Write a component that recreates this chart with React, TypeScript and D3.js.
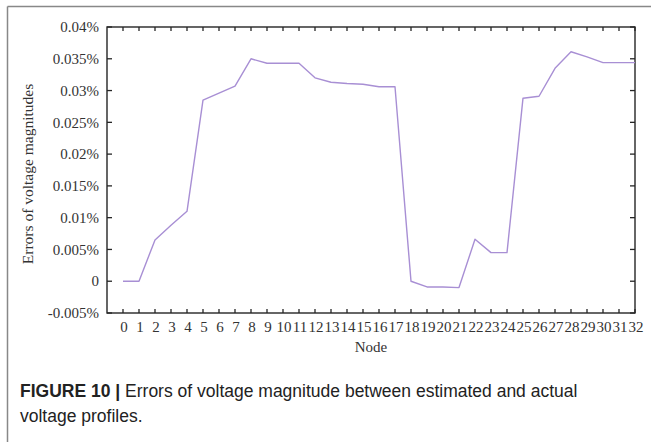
import React from "react";
import * as d3 from "d3";

const nodes: number[] = [0,1,2,3,4,5,6,7,8,9,10,11,12,13,14,15,16,17,18,19,20,21,22,23,24,25,26,27,28,29,30,31,32];
const errors: number[] = [
  0, 0, 0.0065, 0.0088, 0.011, 0.0285, 0.0296, 0.0307, 0.035, 0.0343, 0.0343,
  0.0343, 0.032, 0.0313, 0.0311, 0.031, 0.0306, 0.0306, 0.0, -0.0009, -0.0009,
  -0.001, 0.0066, 0.0045, 0.0045, 0.0288, 0.0291, 0.0335, 0.0361, 0.0353,
  0.0344, 0.0344, 0.0344,
];
const yTickValues: number[] = [0.04, 0.035, 0.03, 0.025, 0.02, 0.015, 0.01, 0.005, 0, -0.005];
const yTickLabels: string[] = ["0.04%", "0.035%", "0.03%", "0.025%", "0.02%", "0.015%", "0.01%", "0.005%", "0", "-0.005%"];
const yTitle = "Errors of voltage magnitudes";
const xTitle = "Node";
const captionBold = "FIGURE 10 | ";
const captionLine1 = "Errors of voltage magnitude between estimated and actual";
const captionLine2 = "voltage profiles.";

export default function App() {
  const W = 651, H = 442;
  const left = 107, right = 635, top = 27, bottom = 313;
  const x = d3.scaleLinear().domain([-1, 32]).range([left, right]);
  const y = d3.scaleLinear().domain([-0.005, 0.04]).range([bottom, top]);
  const line = d3.line<number>().x((_, i) => x(nodes[i])).y((d) => y(d));
  const serif = "'Liberation Serif', 'Times New Roman', serif";
  const sans = "'Liberation Sans', Arial, sans-serif";
  const axisColor = "#262626";
  return (
    <svg width={W} height={H} style={{ position: "absolute", left: 0, top: 0 }}>
      <rect x={0} y={0} width={W} height={H} fill="#fff" />
      {/* page border */}
      <line x1={7.5} y1={6.5} x2={W} y2={6.5} stroke="#888" strokeWidth={1.5} />
      <line x1={7.5} y1={6.5} x2={7.5} y2={H} stroke="#888" strokeWidth={1.5} />
      {/* frame */}
      <rect x={left} y={top} width={right - left} height={bottom - top} fill="none" stroke={axisColor} strokeWidth={1.4} />
      {/* y ticks */}
      {yTickValues.map((v, i) => (
        <g key={"y" + i}>
          <line x1={left} x2={left + 5} y1={y(v)} y2={y(v)} stroke={axisColor} strokeWidth={1.3} />
          <line x1={right} x2={right - 5} y1={y(v)} y2={y(v)} stroke={axisColor} strokeWidth={1.3} />
          <text x={left - 8} y={y(v)} dy="0.35em" textAnchor="end" fontFamily={serif} fontSize={15} fill="#333">
            {yTickLabels[i]}
          </text>
        </g>
      ))}
      {/* x ticks */}
      {nodes.map((n) => (
        <g key={"x" + n}>
          <line x1={x(n)} x2={x(n)} y1={bottom} y2={bottom - 4} stroke={axisColor} strokeWidth={1.3} />
          <line x1={x(n)} x2={x(n)} y1={top} y2={top + 4} stroke={axisColor} strokeWidth={1.3} />
          <text x={x(n) + 1} y={332} textAnchor="middle" fontFamily={serif} fontSize={15} fill="#333">
            {n}
          </text>
        </g>
      ))}
      {/* axis titles */}
      <text x={(left + right) / 2} y={352} textAnchor="middle" fontFamily={serif} fontSize={15} fill="#333">
        {xTitle}
      </text>
      <text
        transform={`translate(33, ${(top + bottom) / 2 + 4}) rotate(-90)`}
        textAnchor="middle"
        fontFamily={serif}
        fontSize={15.5}
        fill="#333"
      >
        {yTitle}
      </text>
      {/* data line */}
      <path d={line(errors) || ""} fill="none" stroke="#a88fd4" strokeWidth={1.4} strokeLinejoin="round" />
      {/* caption */}
      <text x={20} y={397} fontFamily={sans} fontSize={17.5} fill="#222">
        <tspan fontWeight="bold">{captionBold}</tspan>
        <tspan>{captionLine1}</tspan>
      </text>
      <text x={20} y={422} fontFamily={sans} fontSize={17.5} fill="#222">
        {captionLine2}
      </text>
    </svg>
  );
}
